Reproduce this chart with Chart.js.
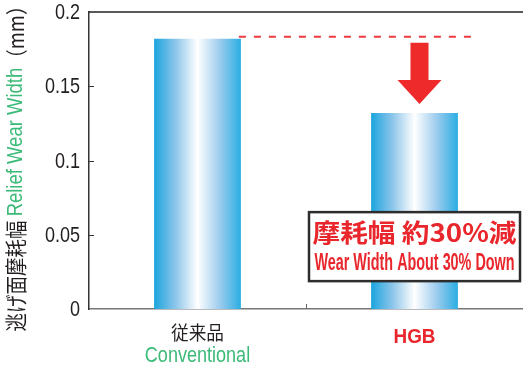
<!DOCTYPE html>
<html>
<head>
<meta charset="utf-8">
<script src="https://cdn.jsdelivr.net/npm/chart.js@4"></script>
<style>
    html, body { margin: 0; padding: 0; background: #fff; }
    #chart { display: block; }
</style>
</head>
<body>
<canvas id="chart" width="523" height="370"></canvas>
<script>
// Data
const categories = ['従来品', 'HGB'];
const categorySubLabels = ['Conventional', ''];
const wearWidth = [0.182, 0.132];
const yTickLabels = ['0', '0.05', '0.1', '0.15', '0.2'];

const latin = '"Liberation Sans", Arial, sans-serif';
const cjk = '"Noto Sans CJK JP", "Liberation Sans", sans-serif';
const dark = '#231f20';
const green = '#3cba78';
const red = '#e9262c';

// condensed text helper
function drawText(ctx, text, x, y, font, color, squeeze, align) {
    ctx.save();
    ctx.font = font;
    ctx.fillStyle = color;
    ctx.textBaseline = 'middle';
    const w = ctx.measureText(text).width * squeeze;
    let left = x;
    if (align === 'center') left = x - w / 2;
    if (align === 'right') left = x - w;
    ctx.translate(left, y);
    ctx.scale(squeeze, 1);
    ctx.textAlign = 'left';
    ctx.fillText(text, 0, 0);
    ctx.restore();
    return w;
}

function fitText(ctx, text, cx, y, font, color, width) {
    ctx.save();
    ctx.font = font;
    const s = width / ctx.measureText(text).width;
    ctx.restore();
    drawText(ctx, text, cx, y, font, color, s, 'center');
}

function barGradient(context) {
    const chart = context.chart;
    if (!chart.chartArea) return '#5ab8e6';
    const xs = chart.scales.x;
    const cx = xs.getPixelForValue(context.dataIndex);
    const half = xs.width / categories.length * 0.4 / 2;
    const g = chart.ctx.createLinearGradient(cx - half, 0, cx + half, 0);
    g.addColorStop(0, '#1aa5de');
    g.addColorStop(0.25, '#8ec6ea');
    g.addColorStop(0.5, '#ffffff');
    g.addColorStop(0.75, '#9fcdee');
    g.addColorStop(1, '#2aade2');
    return g;
}

const decorations = {
    id: 'decorations',
    afterDraw(chart) {
        const ctx = chart.ctx;
        const area = chart.chartArea;
        const xs = chart.scales.x;
        const ys = chart.scales.y;

        // top frame
        ctx.save();
        ctx.strokeStyle = '#222';
        ctx.lineWidth = 1.5;
        ctx.beginPath();
        ctx.moveTo(area.left, area.top);
        ctx.lineTo(chart.width, area.top);
        ctx.stroke();

        // inward y ticks
        ctx.strokeStyle = '#333';
        ctx.lineWidth = 1;
        ys.ticks.forEach(t => {
            if (t.value <= ys.min || t.value >= ys.max) return;
            const y = Math.round(ys.getPixelForValue(t.value)) + 0.5;
            ctx.beginPath();
            ctx.moveTo(area.left, y);
            ctx.lineTo(area.left + 5, y);
            ctx.stroke();
        });

        // category divider tick
        const mid = Math.round((xs.getPixelForValue(0) + xs.getPixelForValue(1)) / 2) + 0.5;
        ctx.strokeStyle = '#666';
        ctx.beginPath();
        ctx.moveTo(mid, area.bottom);
        ctx.lineTo(mid, area.bottom - 5);
        ctx.stroke();
        ctx.restore();

        // y tick labels (condensed)
        ys.ticks.forEach((t, i) => {
            drawText(ctx, yTickLabels[i], area.left - 9, ys.getPixelForValue(t.value) + 1,
                '22px ' + latin, dark, 0.82, 'right');
        });

        // category labels
        const c0 = xs.getPixelForValue(0);
        const c1 = xs.getPixelForValue(1);
        drawText(ctx, categories[0], c0, area.bottom + 24, '19px ' + cjk, dark, 0.93, 'center');
        drawText(ctx, categorySubLabels[0], c0, area.bottom + 47, '22px ' + latin, green, 0.82, 'center');
        drawText(ctx, categories[1], c1, area.bottom + 28, 'bold 21px ' + latin, red, 0.9, 'center');

        // y axis title
        ctx.save();
        ctx.translate(16, 0);
        ctx.rotate(-Math.PI / 2);
        const parts = [
            ['逃げ面摩耗幅 ', '22px ' + cjk, dark],
            ['Relief Wear Width', '22px ' + latin, green],
            ['（mm）', '22px ' + cjk, dark]
        ];
        const sq = 0.84;
        let total = 0;
        parts.forEach(p => { ctx.font = p[1]; total += ctx.measureText(p[0]).width * sq; });
        let pos = -164 - total / 2;
        parts.forEach(p => { pos += drawText(ctx, p[0], pos, 0, p[1], p[2], sq, 'left'); });
        ctx.restore();

        // dashed reference line at conventional level
        const meta = chart.getDatasetMeta(0);
        const b0 = meta.data[0];
        const b1 = meta.data[1];
        const refY = ys.getPixelForValue(wearWidth[0]) - 2;
        ctx.save();
        ctx.strokeStyle = '#ee3a3e';
        ctx.lineWidth = 2;
        ctx.setLineDash([7, 8]);
        ctx.beginPath();
        ctx.moveTo(b0.x + b0.width / 2 - 2, refY);
        ctx.lineTo(b1.x + b1.width / 2 + 15, refY);
        ctx.stroke();
        ctx.restore();

        // arrow down to HGB bar
        const ax = b1.x + 5;
        const top = refY + 6;
        const tip = ys.getPixelForValue(wearWidth[1]) - 9;
        const headTop = tip - 24;
        ctx.save();
        ctx.fillStyle = '#ee2a2a';
        ctx.beginPath();
        ctx.moveTo(ax - 9, top);
        ctx.lineTo(ax + 9, top);
        ctx.lineTo(ax + 9, headTop);
        ctx.lineTo(ax + 22, headTop);
        ctx.lineTo(ax, tip);
        ctx.lineTo(ax - 22, headTop);
        ctx.lineTo(ax - 9, headTop);
        ctx.closePath();
        ctx.fill();
        ctx.restore();

        // callout box
        const bx = b1.x;
        const by = ys.getPixelForValue(0.042);
        const bw = 211, bh = 69;
        ctx.save();
        ctx.fillStyle = '#fff';
        ctx.strokeStyle = '#2d2d2d';
        ctx.lineWidth = 2.5;
        ctx.fillRect(bx - bw / 2, by - bh / 2, bw, bh);
        ctx.strokeRect(bx - bw / 2, by - bh / 2, bw, bh);
        ctx.restore();
        fitText(ctx, '摩耗幅 約30%減', bx, by - 14, 'bold 25px ' + cjk, red, 204);
        fitText(ctx, 'Wear Width About 30% Down', bx, by + 17, 'bold 23px ' + latin, red, 200);
    }
};

function renderWearChart() {
    const ctx = document.getElementById('chart').getContext('2d');
    new Chart(ctx, {
        type: 'bar',
        data: {
            labels: categories,
            datasets: [{
                data: wearWidth,
                backgroundColor: barGradient,
                borderWidth: 0,
                barPercentage: 0.4,
                categoryPercentage: 1
            }]
        },
        options: {
            responsive: false,
            animation: false,
            devicePixelRatio: 1,
            layout: { padding: { top: 12, right: -5, left: 0, bottom: 0 } },
            plugins: {
                legend: { display: false },
                tooltip: { enabled: false }
            },
            scales: {
                x: {
                    grid: { display: false },
                    border: { color: '#777', width: 1.5 },
                    ticks: { display: false },
                    afterFit: scale => { scale.height = 61; }
                },
                y: {
                    min: 0,
                    max: 0.2,
                    grid: { display: false, drawTicks: false },
                    border: { color: '#333', width: 1.5 },
                    ticks: { stepSize: 0.05, display: false },
                    afterFit: scale => { scale.width = 89; }
                }
            }
        },
        plugins: [decorations]
    });
}

document.addEventListener('DOMContentLoaded', renderWearChart);
</script>
</body>
</html>
